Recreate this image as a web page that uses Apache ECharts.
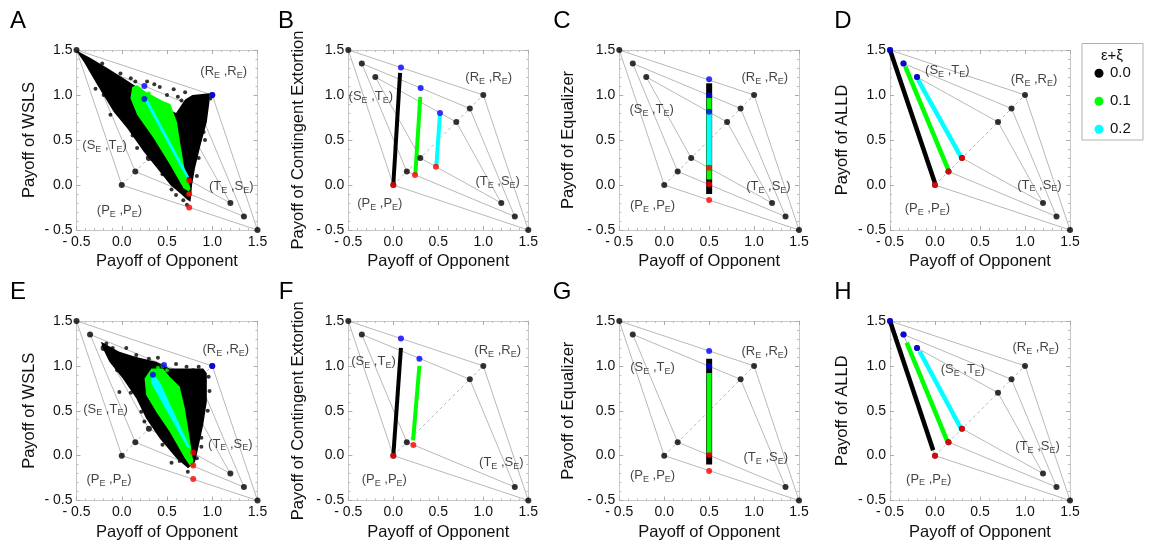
<!DOCTYPE html>
<html>
<head>
<meta charset="utf-8">
<script src="https://cdn.jsdelivr.net/npm/echarts@6/dist/echarts.min.js"></script>
<style>
  html, body { margin: 0; padding: 0; background: #fff; }
  #main { width: 1149px; height: 548px; }
</style>
</head>
<body>
<div id="main"></div>
<script>
// ---- data ----
const panelLetters = ['A', 'B', 'C', 'D', 'E', 'F', 'G', 'H'];
const yTitles = ['Payoff of WSLS', 'Payoff of Contingent Extortion', 'Payoff of Equalizer', 'Payoff of ALLD',
                 'Payoff of WSLS', 'Payoff of Contingent Extortion', 'Payoff of Equalizer', 'Payoff of ALLD'];
const xTitle = 'Payoff of Opponent';
const tickValues = [-0.5, 0, 0.5, 1, 1.5];
const noiseNames = ['0.0', '0.1', '0.2'];
const legendTitle = 'ε+ξ';

// corners of the feasible payoff region for noise 0, 0.1, 0.2
const cornerR = [[1, 1], [0.85, 0.85], [0.7, 0.7]];
const cornerS = [[-0.5, 1.5], [-0.35, 1.35], [-0.2, 1.2]];
const cornerP = [[0, 0], [0.15, 0.15], [0.3, 0.3]];
const cornerT = [[1.5, -0.5], [1.35, -0.35], [1.2, -0.2]];
const diagonal = [[0, 0], [1, 1]];
const quadCount = [3, 3, 3, 3, 3, 2, 2, 3];

// simulated payoffs, WSLS (A)
const cloudBlackA = [[-0.51, 1.5], [-0.345, 1.41], [-0.16, 1.30], [0.02, 1.185], [0.17, 1.09], [0.4, 0.9], [0.6, 0.8],
  [0.7, 0.95], [0.78, 1.0], [0.97, 1.02], [0.97, 0.93], [0.94, 0.70], [0.87, 0.44], [0.81, 0.19], [0.777, 0.0],
  [0.76, -0.185], [0.72, -0.16], [0.667, -0.11], [0.537, 0.0], [0.39, 0.186], [0.243, 0.37], [0.06, 0.63],
  [-0.088, 0.81], [-0.27, 1.11], [-0.42, 1.37]];
const cloudGreenA = [[0.096, 0.963], [0.115, 1.09], [0.17, 1.11], [0.26, 1.04], [0.46, 0.93], [0.537, 0.9], [0.61, 0.70],
  [0.65, 0.44], [0.70, 0.148], [0.76, -0.04], [0.74, -0.07], [0.684, -0.04], [0.537, 0.22], [0.353, 0.52], [0.17, 0.78]];
const cloudCyanA = [[0.24, 0.96], [0.285, 0.95], [0.745, 0.09], [0.715, 0.08]];
const dotsBlackA = [[-0.216, 1.35], [-0.014, 1.24], [0.1, 1.185], [0.28, 1.15], [0.42, 1.09], [0.574, 1.063], [0.66, 0.94],
  [0.79, 0.97], [0.98, 0.96], [0.905, 0.59], [0.85, 0.3], [0.72, -0.22], [0.68, -0.17], [0.6, -0.11], [-0.29, 1.07],
  [-0.125, 0.78], [0.17, 0.41], [0.5, 1.0], [0.36, 1.12], [0.7, 1.03], [-0.35, 1.3], [-0.2, 1.0], [0.0, 0.75],
  [0.12, 0.55], [0.45, 0.12], [0.55, -0.05], [0.92, 0.5], [0.83, 0.1], [0.15, 1.15], [0.62, 0.98]];
const dotsGreenA = [[0.2, 1.06], [0.23, 1.0], [0.3, 1.02], [0.74, -0.1], [0.73, -0.02]];
const blueA = [[1, 1], [0.25, 1.1], [0.25, 0.955]];
const redA = [[0.745, 0.05], [0.745, -0.1], [0.745, -0.25]];

// contingent extortion (B)
const linesB = [[[0, 0], [0.075, 1.245]], [[0.245, 0.12], [0.3, 0.98]], [[0.478, 0.21], [0.518, 0.78]]];
const blueB = [[0.085, 1.305], [0.304, 1.078], [0.519, 0.8]];
const redB = [[0, 0], [0.241, 0.111], [0.474, 0.204]];

// equalizer (C)
const linesC = [[[0.5, -0.1], [0.5, 1.13]], [[0.5, 0.06], [0.5, 0.97]], [[0.5, 0.22], [0.5, 0.8]]];
const blueC = [[0.5, 1.174], [0.5, 0.996], [0.5, 0.815]];
const redC = [[0.5, 0.193], [0.5, 0.007], [0.5, -0.167]];

// ALLD (D)
const linesD = [[[-0.5, 1.5], [0, 0.02]], [[-0.33, 1.315], [0.148, 0.167]], [[-0.19, 1.17], [0.29, 0.31]]];
const blueD = [[-0.5, 1.5], [-0.35, 1.35], [-0.2, 1.2]];
const redD = [[0, 0], [0.15, 0.15], [0.3, 0.3]];

// WSLS (E)
const cloudBlackE = [[-0.229, 1.27], [-0.026, 1.158], [0.16, 1.10], [0.38, 1.046], [0.53, 0.97], [0.716, 0.97], [0.9, 0.97],
  [0.94, 0.917], [0.94, 0.6], [0.9, 0.34], [0.844, 0.08], [0.81, -0.07], [0.733, -0.14], [0.604, -0.03], [0.42, 0.19],
  [0.27, 0.415], [0.16, 0.64], [0.011, 0.86], [-0.137, 1.046], [-0.21, 1.196]];
const cloudGreenE = [[0.252, 0.86], [0.327, 0.97], [0.456, 0.97], [0.53, 0.88], [0.64, 0.77], [0.697, 0.527], [0.757, 0.155],
  [0.79, -0.07], [0.76, -0.12], [0.697, -0.03], [0.53, 0.266], [0.38, 0.49], [0.27, 0.675]];
const cloudCyanE = [[0.32, 0.86], [0.37, 0.88], [0.42, 0.82], [0.76, 0.08], [0.72, 0.1], [0.33, 0.80]];
const dotsBlackE = [[-0.17, 1.25], [0.16, 1.12], [0.4, 1.09], [0.716, 0.99], [0.79, 0.95], [0.96, 0.88], [0.97, 0.72],
  [0.83, -0.03], [0.64, -0.06], [0.73, -0.18], [-0.026, 0.71], [0.216, 0.49], [0.05, 1.2], [0.6, 1.02], [0.88, 0.2],
  [-0.1, 1.2], [-0.05, 0.95], [0.1, 0.7], [0.25, 0.38], [0.45, 0.12], [0.55, -0.08], [0.95, 0.5], [0.88, 0.1],
  [0.85, 0.99], [0.3, 1.08]];
const dotsGreenE = [[0.45, 1.0], [0.5, 0.95], [0.78, -0.1], [0.77, -0.05], [0.4, 0.98]];
const blueE = [[1, 1], [0.467, 1.01], [0.344, 0.9]];
const redE = [[0.79, 0.036], [0.79, -0.11], [0.79, -0.26]];

// contingent extortion (F)
const linesF = [[[0, 0], [0.085, 1.2]], [[0.22, 0.17], [0.29, 1.0]]];
const blueF = [[0.085, 1.306], [0.29, 1.08]];
const redF = [[0, 0], [0.223, 0.118]];

// equalizer (G)
const linesG = [[[0.5, -0.1], [0.5, 1.08]], [[0.5, 0.025], [0.5, 0.92]]];
const blueG = [[0.5, 1.166], [0.5, 1.0]];
const redG = [[0.5, 0.006], [0.5, -0.17]];

// ALLD (H)
const linesH = [[[-0.5, 1.5], [-0.02, 0.06]], [[-0.315, 1.26], [0.141, 0.15]], [[-0.17, 1.16], [0.29, 0.30]]];
const blueH = [[-0.5, 1.5], [-0.35, 1.35], [-0.2, 1.2]];
const redH = [[0, 0], [0.15, 0.15], [0.3, 0.3]];

// ---- layout / style ----
const noiseColors = ['#000000', '#00ff00', '#00ffff'];
const grayLine = '#b8b8b8';
const frameColor = '#c8c8c8';
const font = '"Liberation Sans", Arial, sans-serif';
const colX = [[76.5, 257.5], [348.3, 528.3], [619.3, 799], [890, 1070]];
const rowY = [[50, 230], [321, 500.5]];
const yNameGap = [39, 41, 42, 39];
const letterX = [18, 286, 562, 843];
const letterY = [21, 292];
const lineWidths = [4, 4, 6, 4.5];

const labelText = {
  R: '(R{s|E} ,R{s|E})', S: '(S{s|E} ,T{s|E})', T: '(T{s|E} ,S{s|E})', P: '(P{s|E} ,P{s|E})'
};
const labelPos = [
  { R: [1.126, 1.26], S: [-0.19, 0.44], T: [1.21, -0.02], P: [-0.025, -0.28] },
  { R: [1.06, 1.19], S: [-0.25, 0.98], T: [1.16, 0.04], P: [-0.15, -0.21] },
  { R: [1.12, 1.19], S: [-0.14, 0.84], T: [1.16, -0.02], P: [-0.13, -0.23] },
  { R: [1.1, 1.17], S: [0.137, 1.27], T: [1.16, 0.0], P: [-0.085, -0.26] },
  { R: [1.15, 1.18], S: [-0.18, 0.52], T: [1.2, 0.13], P: [-0.14, -0.27] },
  { R: [1.16, 1.17], S: [-0.22, 1.05], T: [1.2, -0.075], P: [-0.1, -0.27] },
  { R: [1.12, 1.16], S: [-0.13, 0.98], T: [1.13, -0.02], P: [-0.13, -0.22] },
  { R: [1.12, 1.21], S: [0.31, 0.96], T: [1.14, 0.1], P: [-0.07, -0.26] }
];

const panels = [
  { clouds: [cloudBlackA, cloudGreenA, cloudCyanA], dots: [dotsBlackA, dotsGreenA], blue: blueA, red: redA },
  { lines: linesB, blue: blueB, red: redB },
  { lines: linesC, blue: blueC, red: redC },
  { lines: linesD, blue: blueD, red: redD },
  { clouds: [cloudBlackE, cloudGreenE, cloudCyanE], dots: [dotsBlackE, dotsGreenE], blue: blueE, red: redE },
  { lines: linesF, blue: blueF, red: redF },
  { lines: linesG, blue: blueG, red: redG },
  { lines: linesH, blue: blueH, red: redH }
];

function tickFmt(v) {
  return v < 0 ? '- ' + (-v).toFixed(1) : v.toFixed(1);
}

function polygonSeries(i, pts, color, z) {
  return {
    type: 'custom', xAxisIndex: 2 * i, yAxisIndex: 2 * i, data: pts, z: z, silent: true, clip: false,
    renderItem: function (params, api) {
      if (params.dataIndex !== 0) return null;
      return {
        type: 'polygon',
        shape: { points: pts.map(function (p) { return api.coord(p); }) },
        style: { fill: color }
      };
    }
  };
}

const option = {
  animation: false,
  textStyle: { fontFamily: font },
  grid: [], xAxis: [], yAxis: [], series: [], graphic: []
};

panels.forEach(function (p, i) {
  const c = i % 4, r = Math.floor(i / 4);
  const x0 = colX[c][0], x1 = colX[c][1], y0 = rowY[r][0], y1 = rowY[r][1];
  option.grid.push({ left: x0, top: y0, width: x1 - x0, height: y1 - y0 });

  const base = {
    type: 'value', gridIndex: i, min: -0.5, max: 1.5, interval: 0.5,
    axisLine: { show: true, onZero: false, lineStyle: { color: frameColor, width: 1 } },
    axisTick: { show: true, inside: true, length: 4, lineStyle: { color: '#aaaaaa' } },
    minorTick: { show: true, splitNumber: 5, length: 2, lineStyle: { color: '#bbbbbb' } },
    splitLine: { show: false }
  };
  const labelStyle = { formatter: tickFmt, fontSize: 14, color: '#111', fontFamily: font };
  option.xAxis.push(Object.assign({}, base, {
    position: 'bottom',
    axisLabel: Object.assign({ margin: 5 }, labelStyle),
    name: xTitle, nameLocation: 'middle', nameGap: 23,
    nameTextStyle: { fontSize: 16.5, color: '#111', fontFamily: font }
  }));
  option.xAxis.push(Object.assign({}, base, { position: 'top', axisLabel: { show: false } }));
  option.yAxis.push(Object.assign({}, base, {
    position: 'left',
    axisLabel: Object.assign({ margin: 4 }, labelStyle),
    name: yTitles[i], nameLocation: 'middle', nameGap: yNameGap[c],
    nameTextStyle: { fontSize: 16.5, color: '#111', fontFamily: font }
  }));
  option.yAxis.push(Object.assign({}, base, { position: 'right', axisLabel: { show: false } }));

  const ax = { xAxisIndex: 2 * i, yAxisIndex: 2 * i };

  // region outlines
  for (let k = 0; k < quadCount[i]; k++) {
    option.series.push(Object.assign({
      type: 'line', data: [cornerR[k], cornerS[k], cornerP[k], cornerT[k], cornerR[k]],
      showSymbol: false, silent: true, clip: false, z: 1,
      lineStyle: { color: grayLine, width: 1 }
    }, ax));
  }
  option.series.push(Object.assign({
    type: 'line', data: diagonal, showSymbol: false, silent: true, clip: false, z: 1,
    lineStyle: { color: grayLine, width: 1, type: [3, 3] }
  }, ax));

  // simulation clouds
  if (p.clouds) {
    p.clouds.forEach(function (pts, k) {
      option.series.push(polygonSeries(i, pts, noiseColors[k], 2 + k));
      if (p.dots[k]) {
        option.series.push(Object.assign({
          type: 'scatter', data: p.dots[k], symbolSize: 4, silent: true, clip: false, z: 2 + k,
          itemStyle: { color: noiseColors[k] }
        }, ax));
      }
    });
  }

  // strategy lines
  if (p.lines) {
    p.lines.forEach(function (seg, k) {
      option.series.push(Object.assign({
        type: 'line', name: noiseNames[k], data: seg, showSymbol: false, silent: true, clip: false, z: 5,
        lineStyle: { color: noiseColors[k], width: c === 2 ? (k === 0 ? 6 : 5) : lineWidths[c] }
      }, ax));
    });
  }

  // corner dots
  const corners = [];
  for (let k = 0; k < quadCount[i]; k++) {
    corners.push(cornerR[k], cornerS[k], cornerP[k], cornerT[k]);
  }
  option.series.push(Object.assign({
    type: 'scatter', data: corners, symbolSize: 6, silent: true, clip: false, z: 6,
    itemStyle: { color: '#000' }
  }, ax));
  option.series.push(Object.assign({
    type: 'scatter', data: p.blue, symbolSize: 6, silent: true, clip: false, z: 7,
    itemStyle: { color: '#0000ff' }
  }, ax));
  option.series.push(Object.assign({
    type: 'scatter', data: p.red, symbolSize: 6, silent: true, clip: false, z: 7,
    itemStyle: { color: '#ff0000' }
  }, ax));

  // corner labels
  option.series.push(Object.assign({
    type: 'scatter', symbolSize: 1, silent: true, clip: false, z: 8,
    itemStyle: { color: 'rgba(0,0,0,0)' },
    data: ['R', 'S', 'T', 'P'].map(function (key) { return { name: key, value: labelPos[i][key] }; }),
    label: {
      show: true, position: 'inside', color: '#111', fontSize: 13, fontFamily: font, lineHeight: 17,
      formatter: function (prm) { return labelText[prm.name]; },
      rich: { s: { fontSize: 9, fontFamily: font, color: '#111', verticalAlign: 'bottom', lineHeight: 17 } }
    }
  }, ax));

  // panel letter
  option.graphic.push({
    type: 'text', x: letterX[c], y: letterY[r],
    style: { text: panelLetters[i], fontSize: 24, fontFamily: font, fill: '#000', align: 'center', verticalAlign: 'middle' }
  });
});

// legend box
option.graphic.push({
  type: 'rect', shape: { x: 1082, y: 43.5, width: 61, height: 96.5 },
  style: { fill: '#fff', stroke: '#b0b0b0', lineWidth: 1 }
});
option.graphic.push({
  type: 'text', x: 1112, y: 56,
  style: { text: legendTitle, fontSize: 15, fontFamily: font, fill: '#111', align: 'center', verticalAlign: 'middle' }
});
noiseNames.forEach(function (nm, k) {
  const cy = 73.3 + k * 28;
  option.graphic.push({ type: 'circle', shape: { cx: 1099, cy: cy, r: 4.5 }, style: { fill: noiseColors[k] } });
  option.graphic.push({
    type: 'text', x: 1110, y: cy,
    style: { text: nm, fontSize: 15, fontFamily: font, fill: '#111', align: 'left', verticalAlign: 'middle' }
  });
});

const chart = echarts.init(document.getElementById('main'), null, { renderer: 'canvas' });
chart.setOption(option);
</script>
</body>
</html>
